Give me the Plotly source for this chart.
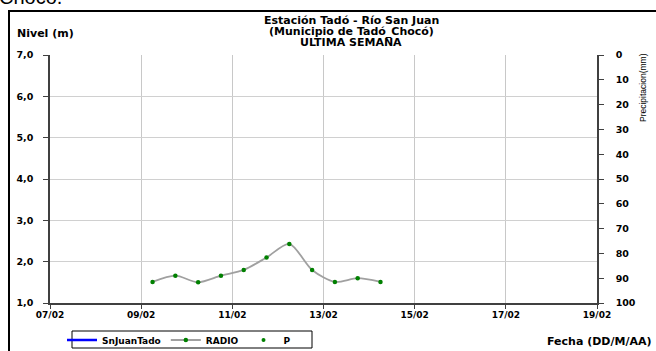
import plotly.graph_objects as go

# Data
fechas = ["2021-02-09 06:00", "2021-02-09 18:00", "2021-02-10 06:00", "2021-02-10 18:00",
          "2021-02-11 06:00", "2021-02-11 18:00", "2021-02-12 06:00", "2021-02-12 18:00",
          "2021-02-13 06:00", "2021-02-13 18:00", "2021-02-14 06:00"]
radio = [1.51, 1.66, 1.50, 1.66, 1.80, 2.10, 2.43, 1.80, 1.51, 1.60, 1.51]
snjuan_fechas = [None]
snjuan = [None]
p_fechas = [None]
p_vals = [None]
x_ticks = ["2021-02-07", "2021-02-09", "2021-02-11", "2021-02-13",
           "2021-02-15", "2021-02-17", "2021-02-19"]
title_lines = ["Estación Tadó - Río San Juan", "(Municipio de Tadó_Chocó)", "ULTIMA SEMANA"]

FONT = "DejaVu Sans, sans-serif"
FONT2 = "Liberation Sans, Arial, sans-serif"
W, H = 656, 351
L, R, T, B = 50, 59, 55, 48
pw, ph = W - L - R, H - T - B

def px(x):
    return (x - L) / pw

def py(y):
    return (H - B - y) / ph

fig = go.Figure()
fig.add_trace(go.Scatter(x=snjuan_fechas, y=snjuan, name="SnJuanTado", mode="lines",
                         line=dict(color="#0000ff", width=2.5)))
fig.add_trace(go.Scatter(x=fechas, y=radio, name="RADIO", mode="lines+markers",
                         line=dict(color="#a0a0a0", width=1.8, shape="spline", smoothing=0.8),
                         marker=dict(color="#008000", size=4.5)))
fig.add_trace(go.Scatter(x=p_fechas, y=p_vals, name="P", mode="markers", yaxis="y2",
                         marker=dict(color="#008000", size=4)))

tickfont = dict(family=FONT, size=9.5, weight="bold", color="black")

fig.update_layout(
    width=W, height=H,
    margin=dict(l=L, r=R, t=T, b=B, autoexpand=False),
    paper_bgcolor="white", plot_bgcolor="white",
    separators=",.",
    font=dict(family=FONT, size=10, color="black", weight="bold"),
    showlegend=True,
    legend=dict(orientation="h", xref="container", yref="container",
                x=62 / W, y=1 - 340 / H, xanchor="left", yanchor="middle",
                borderwidth=0, bgcolor="rgba(0,0,0,0)",
                font=dict(family=FONT, size=9, weight="bold"),
                itemwidth=30, tracegroupgap=0),
    xaxis=dict(type="date", range=["2021-02-07", "2021-02-19"], automargin=False,
               tickvals=x_ticks, tickformat="%d/%m", showgrid=True,
               gridcolor="#c8c8c8", gridwidth=1,
               showline=True, linecolor="#404040", linewidth=1.5,
               ticks="outside", ticklen=4, tickcolor="#404040",
               ticklabelstandoff=-2,
               tickfont=dict(family=FONT, size=9, weight="bold", color="black"), zeroline=False),
    yaxis=dict(range=[1, 7], dtick=1, tickformat=".1f", showgrid=True, automargin=False,
               gridcolor="#d0d0d0", gridwidth=1,
               showline=True, linecolor="#404040", linewidth=1.5,
               ticks="outside", ticklen=5, tickcolor="#404040",
               ticklabelstandoff=8, tickfont=tickfont, zeroline=False),
    yaxis2=dict(overlaying="y", side="right", range=[100, 0], dtick=10, automargin=False,
                showgrid=False, showline=True, linecolor="#404040", linewidth=1.5,
                ticks="outside", ticklen=5, tickcolor="#404040",
                ticklabelstandoff=10, tickfont=tickfont, zeroline=False),
)

# Outer border box
fig.add_shape(type="rect", xref="paper", yref="paper",
              x0=px(9), x1=px(700), y0=py(400), y1=py(11),
              line=dict(color="black", width=2), fillcolor="rgba(0,0,0,0)", layer="above")
# Legend frame
fig.add_shape(type="rect", xref="paper", yref="paper",
              x0=px(72), x1=px(312), y0=py(348), y1=py(331),
              line=dict(color="black", width=1), fillcolor="white", layer="below")

# Title (three lines, tight spacing)
for line, yy in zip(title_lines, [20.5, 31.5, 42.5]):
    fig.add_annotation(xref="paper", yref="paper", x=px(351), y=py(yy),
                       xanchor="center", yanchor="middle", text=line, showarrow=False,
                       font=dict(family=FONT, size=11, weight="bold"))
fig.add_annotation(xref="paper", yref="paper", x=px(15), y=py(33), xanchor="left", yanchor="middle",
                   text="Nivel (m)", showarrow=False,
                   font=dict(family=FONT, size=11, weight="bold"))
fig.add_annotation(xref="paper", yref="paper", x=px(653), y=py(341), xanchor="right", yanchor="middle",
                   text="Fecha (DD/M/AA)", showarrow=False,
                   font=dict(family=FONT, size=11, weight="bold"))
fig.add_annotation(xref="paper", yref="paper", x=px(643), y=py(88), xanchor="center", yanchor="middle",
                   text="Precipitacion(mm)", textangle=-90, showarrow=False,
                   font=dict(family=FONT2, size=8.5, weight="normal"))
# Cut-off text at top
fig.add_annotation(xref="paper", yref="paper", x=px(-3), y=py(10), xanchor="left", yanchor="bottom",
                   text="Chocó.", showarrow=False,
                   font=dict(family=FONT2, size=20, weight="normal"))

fig.write_html("out.html", config={"displayModeBar": False},
               post_script="document.body.style.margin='0';")
